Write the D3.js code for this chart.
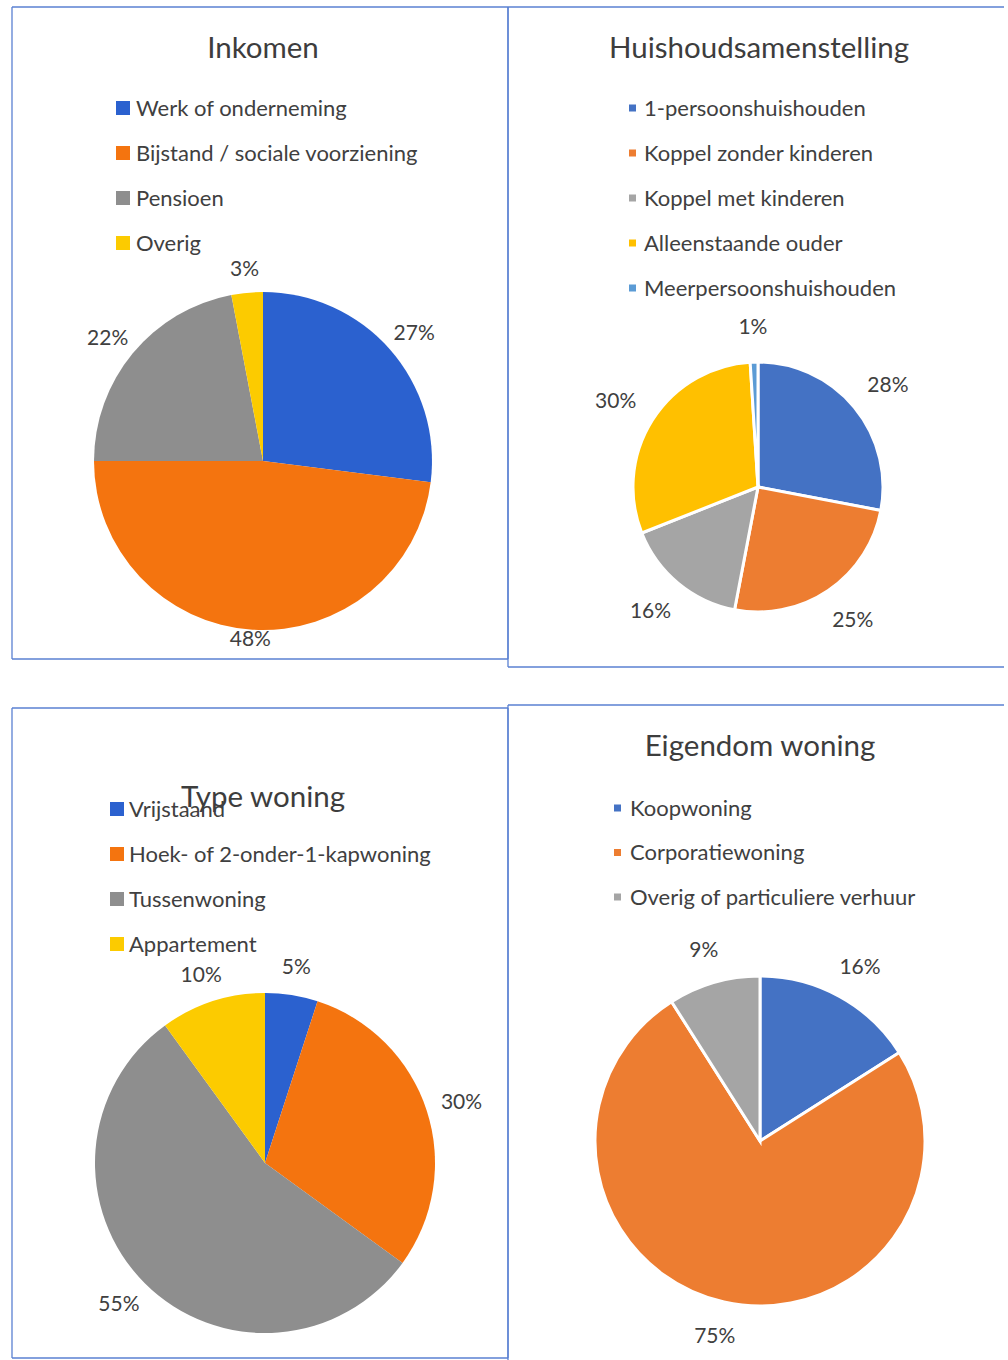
<!DOCTYPE html>
<html>
<head>
<meta charset="utf-8">
<script src="https://cdn.jsdelivr.net/npm/d3@7"></script>
<style>
  body { margin: 0; background: #ffffff; }
  svg text { font-family: Lato, "Open Sans", sans-serif; fill: #404040; }
</style>
</head>
<body>
<div id="chart"></div>
<script>
// data per chart
var inkomenCategories = ["Werk of onderneming", "Bijstand / sociale voorziening", "Pensioen", "Overig"];
var inkomenValues = [27, 48, 22, 3];

var huishoudenCategories = ["1-persoonshuishouden", "Koppel zonder kinderen", "Koppel met kinderen", "Alleenstaande ouder", "Meerpersoonshuishouden"];
var huishoudenValues = [28, 25, 16, 30, 1];

var typeCategories = ["Vrijstaand", "Hoek- of 2-onder-1-kapwoning", "Tussenwoning", "Appartement"];
var typeValues = [5, 30, 55, 10];

var eigendomCategories = ["Koopwoning", "Corporatiewoning", "Overig of particuliere verhuur"];
var eigendomValues = [16, 75, 9];

// colours
var brightColors = ["#2b61cf", "#f4740f", "#8e8e8e", "#fccb00"];
var officeColors = ["#4472c4", "#ed7d31", "#a5a5a5", "#ffc000", "#5b9bd5"];

var W = 1008, H = 1360;
var svg = d3.select('#chart').append('svg')
	.attr('width', W)
	.attr('height', H);

//panel layout
var panels = [
	{ title: "Inkomen", cats: inkomenCategories, vals: inkomenValues, colors: brightColors,
	  box: { x0: 12, y0: 7, x1: 508, y1: 659 }, sides: "trbl",
	  titleX: 263, titleY: 48,
	  legend: { x: 116, y: 108, step: 45, size: 14, gap: 6 },
	  pie: { cx: 263, cy: 461, r: 169, stroke: 0, gap: 12 } },
	{ title: "Huishoudsamenstelling", cats: huishoudenCategories, vals: huishoudenValues, colors: officeColors,
	  box: { x0: 508, y0: 7, x1: 1004, y1: 667 }, sides: "tbl",
	  titleX: 759, titleY: 48,
	  legend: { x: 629, y: 108, step: 45, size: 7, gap: 8 },
	  pie: { cx: 758, cy: 487, r: 125, stroke: 3, gap: 23 } },
	{ title: "Type woning", cats: typeCategories, vals: typeValues, colors: brightColors,
	  box: { x0: 12, y0: 708, x1: 508, y1: 1358 }, sides: "trbl",
	  titleX: 263, titleY: 797,
	  legend: { x: 110, y: 809, step: 45, size: 14, gap: 5 },
	  pie: { cx: 265, cy: 1163, r: 170, stroke: 0, gap: 16 } },
	{ title: "Eigendom woning", cats: eigendomCategories, vals: eigendomValues, colors: officeColors,
	  box: { x0: 508, y0: 705, x1: 1004, y1: 1362 }, sides: "tl",
	  titleX: 760, titleY: 746,
	  legend: { x: 614, y: 808, step: 44.5, size: 7, gap: 9 },
	  pie: { cx: 760, cy: 1141, r: 165, stroke: 3, gap: 22 } }
];

var pie = d3.pie().sort(null).value(function(d) { return d; });

panels.forEach(function(p) {
	var g = svg.append('g');
	var b = p.box;

	//panel border
	var lines = [];
	if (p.sides.indexOf('t') > -1) lines.push([b.x0, b.y0, b.x1, b.y0]);
	if (p.sides.indexOf('r') > -1) lines.push([b.x1, b.y0, b.x1, b.y1]);
	if (p.sides.indexOf('b') > -1) lines.push([b.x0, b.y1, b.x1, b.y1]);
	if (p.sides.indexOf('l') > -1) lines.push([b.x0, b.y0, b.x0, b.y1]);
	g.selectAll('.border').data(lines).enter().append('line')
		.attr('class', 'border')
		.attr('x1', function(d) { return d[0]; })
		.attr('y1', function(d) { return d[1]; })
		.attr('x2', function(d) { return d[2]; })
		.attr('y2', function(d) { return d[3]; })
		.style('stroke', '#5a80d2')
		.style('stroke-width', 1.3);

	//pie
	var arcs = pie(p.vals);
	var arc = d3.arc().innerRadius(0).outerRadius(p.pie.r);

	var pg = g.append('g')
		.attr('transform', 'translate(' + p.pie.cx + ',' + p.pie.cy + ')');

	pg.selectAll('.slice').data(arcs).enter().append('path')
		.attr('class', 'slice')
		.attr('d', arc)
		.style('fill', function(d, i) { return p.colors[i]; })
		.style('stroke', p.pie.stroke ? '#ffffff' : 'none')
		.style('stroke-width', p.pie.stroke);

	//outside-end labels: text box pushed out along the mid angle
	var pct = pg.selectAll('.pct').data(arcs).enter().append('text')
		.attr('class', 'pct')
		.attr('text-anchor', 'middle')
		.attr('dy', '0.35em')
		.style('font-size', '21px')
		.text(function(d) { return d.data + '%'; });

	pct.each(function(d) {
		var bb = this.getBBox();
		var a = (d.startAngle + d.endAngle) / 2;
		var s = Math.sin(a), c = -Math.cos(a);
		var rr = p.pie.r + p.pie.gap;
		var x = rr * s + bb.width / 2 * s;
		var y = rr * c + bb.height / 2 * c;
		//keep labels inside the panel
		y = Math.min(y, b.y1 - 20 - p.pie.cy);
		d3.select(this).attr('x', x).attr('y', y);
	});

	//title
	g.append('text')
		.attr('x', p.titleX)
		.attr('y', p.titleY)
		.attr('dy', '0.35em')
		.attr('text-anchor', 'middle')
		.style('font-size', '29.5px')
		.style('fill', '#3d3d3d')
		.text(p.title);

	//legend
	var lg = g.selectAll('.leg').data(p.cats).enter().append('g')
		.attr('class', 'leg')
		.attr('transform', function(d, i) { return 'translate(' + p.legend.x + ',' + (p.legend.y + i * p.legend.step) + ')'; });

	lg.append('rect')
		.attr('x', 0)
		.attr('y', -p.legend.size / 2)
		.attr('width', p.legend.size)
		.attr('height', p.legend.size)
		.style('fill', function(d, i) { return p.colors[i]; });

	lg.append('text')
		.attr('x', p.legend.size + p.legend.gap)
		.attr('y', 0)
		.attr('dy', '0.35em')
		.style('font-size', '22px')
		.text(function(d) { return d; });
});
</script>
</body>
</html>
